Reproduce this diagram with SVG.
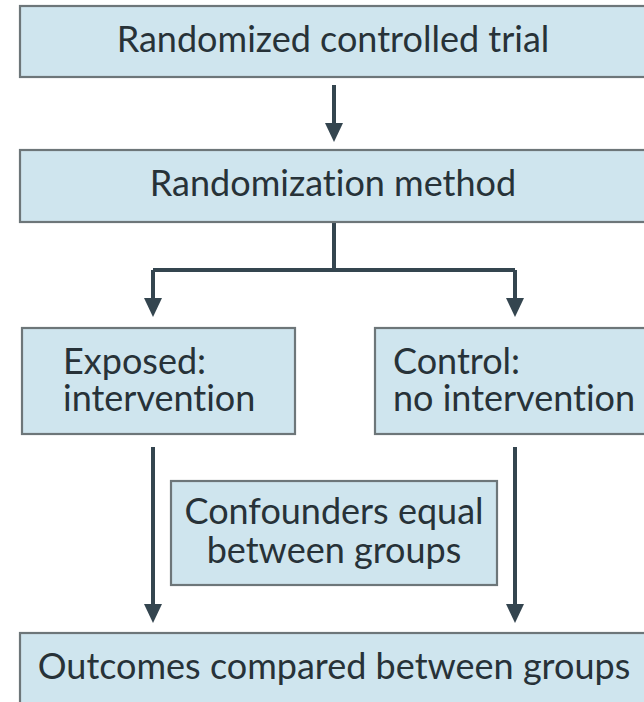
<svg xmlns="http://www.w3.org/2000/svg" width="644" height="702" viewBox="0 0 644 702">
<defs>
<style>
.box{fill:#cfe5ee;stroke:#6d7679;stroke-width:2.2}
.t{font-family:Lato,"Open Sans","Liberation Sans",sans-serif;font-size:36px;fill:#273238;font-variant-ligatures:none;font-feature-settings:"liga" 0}
.c{text-anchor:middle}
.ln{fill:none;stroke:#34454f;stroke-width:4}
.ah{fill:#34454f}
</style>
</defs>
<rect width="644" height="702" fill="#ffffff"/>
<g id="connectors">
<path class="ln" d="M334,85 V128"/>
<path class="ah" d="M325,123 L343,123 L334,142 Z"/>
<path class="ln" d="M334,222 V270 M153,270 H515 M153,270 V302 M515,270 V302"/>
<path class="ah" d="M144,298 L162,298 L153,317 Z"/>
<path class="ah" d="M506,298 L524,298 L515,317 Z"/>
<path class="ln" d="M153,447 V608 M515,447 V608"/>
<path class="ah" d="M144,604 L162,604 L153,623 Z"/>
<path class="ah" d="M506,604 L524,604 L515,623 Z"/>
</g>
<g id="rct">
<rect class="box" x="20" y="6" width="640" height="71"/>
<text class="t c" x="333" y="52">Randomized controlled trial</text>
</g>
<g id="randomization">
<rect class="box" x="20" y="150" width="640" height="72"/>
<text class="t c" x="333" y="196">Randomization method</text>
</g>
<g id="exposed">
<rect class="box" x="22" y="328" width="273" height="106"/>
<text class="t" x="63" y="374">Exposed:</text>
<text class="t" x="63" y="411">intervention</text>
</g>
<g id="control">
<rect class="box" x="375" y="328" width="290" height="106"/>
<text class="t" x="393" y="374">Control:</text>
<text class="t" x="393" y="411">no intervention</text>
</g>
<g id="confounders">
<rect class="box" x="171" y="481" width="326" height="104"/>
<text class="t c" x="334" y="524">Confounders equal</text>
<text class="t c" x="334" y="563">between groups</text>
</g>
<g id="outcomes">
<rect class="box" x="20" y="633" width="640" height="80"/>
<text class="t c" x="334" y="679">Outcomes compared between groups</text>
</g>
</svg>
